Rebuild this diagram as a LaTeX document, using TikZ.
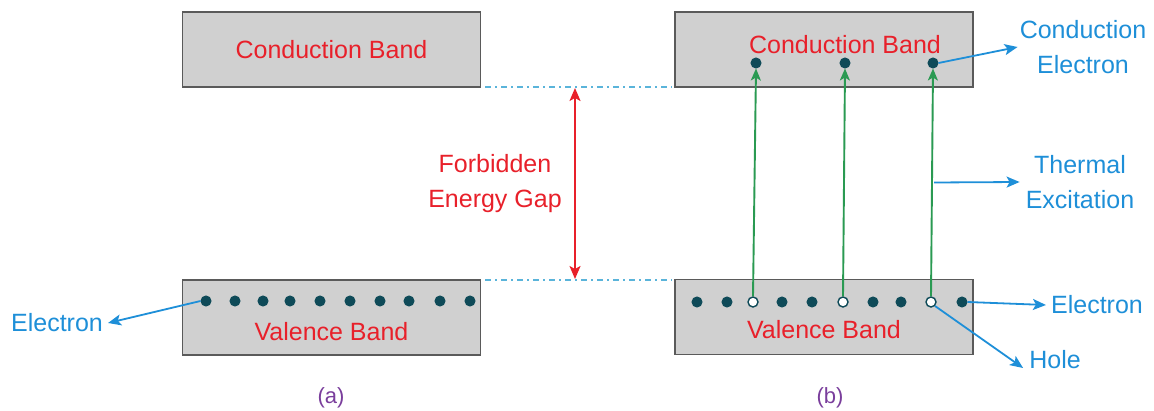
\documentclass[tikz,border=0pt]{standalone}
\usepackage{fontspec}
\setmainfont{Liberation Sans}
\usetikzlibrary{arrows.meta,calc}
\definecolor{bandfill}{HTML}{D0D0D0}
\definecolor{bandline}{HTML}{5A5A5A}
\definecolor{redtxt}{HTML}{E8202A}
\definecolor{bluetxt}{HTML}{1E8FD8}
\definecolor{dotcol}{HTML}{0E4A58}
\definecolor{greenarr}{HTML}{2A9A52}
\definecolor{dashcol}{HTML}{5AB4DA}
\definecolor{purp}{HTML}{7A3E9C}
\tikzset{
  band/.style={draw=bandline, line width=1.5pt, fill=bandfill, minimum width=298pt, minimum height=75pt, inner sep=0pt},
  redlab/.style={text=redtxt, font=\fontsize{25}{35}\selectfont, align=center, inner sep=0pt},
  bluelab/.style={text=bluetxt, font=\fontsize{25}{35}\selectfont, align=center, inner sep=0pt},
  elec/.style={circle, fill=dotcol, draw=dotcol, line width=1pt, minimum size=10pt, inner sep=0pt},
  hole/.style={circle, fill=white, draw=dotcol, line width=1.4pt, minimum size=10pt, inner sep=0pt},
  bluearr/.style={draw=bluetxt, line width=1.8pt, -{Stealth[length=13pt,width=11pt,inset=3pt]}},
  greenarrow/.style={draw=greenarr, line width=1.9pt, -{Stealth[length=12pt,width=10pt,inset=3pt]}},
  gapline/.style={draw=dashcol, line width=1.6pt, dash pattern=on 6pt off 4pt on 2pt off 4pt},
  sublab/.style={text=purp, font=\fontsize{22}{26}\selectfont, inner sep=0pt}
}
\begin{document}
\begin{tikzpicture}[x=1pt,y=-1pt]
\useasboundingbox (0,0) rectangle (1154,411);
% left bands
\node[band] (lcb) at (331.5,49.5) {};
\node[band] (lvb) at (331.5,317.5) {};
\node[redlab] (lcbt) at (331.5,50) {Conduction Band};
\node[redlab] (lvbt) at (331.5,332) {Valence Band};
% right bands
\node[band] (rcb) at (824,49.5) {};
\node[band] (rvb) at (824,317) {};
\node[redlab] (rcbt) at (845,45) {Conduction Band};
\node[redlab] (rvbt) at (824,330) {Valence Band};
% left valence electrons
\foreach \i/\x in {1/206,2/235,3/263,4/290,5/320,6/350,7/380,8/409,9/440,10/470}
  \node[elec] (le\i) at (\x,301) {};
% right valence
\node[elec] (r1) at (697,302) {};
\node[elec] (r2) at (727,302) {};
\node[hole] (h1) at (753,302) {};
\node[elec] (r4) at (782,302) {};
\node[elec] (r5) at (812,302) {};
\node[hole] (h2) at (843,302) {};
\node[elec] (r7) at (873,302) {};
\node[elec] (r8) at (901,302) {};
\node[hole] (h3) at (931,302) {};
\node[elec] (r10) at (962,302) {};
% conduction electrons
\node[elec] (c1) at (756,63) {};
\node[elec] (c2) at (845,63) {};
\node[elec] (c3) at (933,63) {};
% green arrows
\draw[greenarrow] (h1.north) -- (c1.south);
\draw[greenarrow] (h2.north) -- (c2.south);
\draw[greenarrow] (h3.north) -- (c3.south);
% gap lines
\coordinate (g1a) at (485,87);
\coordinate (g1b) at (672,87);
\coordinate (g2a) at (485,280);
\coordinate (g2b) at (672,280);
\draw[gapline] (g1a) -- (g1b);
\draw[gapline] (g2a) -- (g2b);
\coordinate (gt) at (575,88);
\coordinate (gb) at (575,279);
\draw[draw=redtxt, line width=1.8pt, {Stealth[length=13pt,width=11pt,inset=3pt]}-{Stealth[length=13pt,width=11pt,inset=3pt]}] (gt) -- (gb);
\node[redlab] (fgap) at (495,184) {Forbidden\\Energy Gap};
% blue labels
\node[bluelab] (lel) at (57,323) {Electron};
\draw[bluearr] (le1.west) -- ([xshift=5pt]lel.east);
\node[bluelab] (cel) at (1083,47) {Conduction\\Electron};
\draw[bluearr] (c3.east) -- ([xshift=-2pt]cel.west);
\node[bluelab] (tex) at (1080,182) {Thermal\\Excitation};
\coordinate (te) at ($(h3)!0.5!(c3)$);
\draw[bluearr] ([xshift=2pt]te) -- ([xshift=-6pt]tex.west);
\node[bluelab] (rel) at (1097,305) {Electron};
\draw[bluearr] (r10.east) -- ([xshift=-5pt]rel.west);
\node[bluelab] (hol) at (1055,360) {Hole};
\draw[bluearr] (h3.south east) -- ([xshift=-6pt,yshift=-8pt]hol.west);
% sub labels
\node[sublab] (la) at (331,398) {(a)};
\node[sublab] (lb) at (830,398) {(b)};
\end{tikzpicture}
\end{document}
